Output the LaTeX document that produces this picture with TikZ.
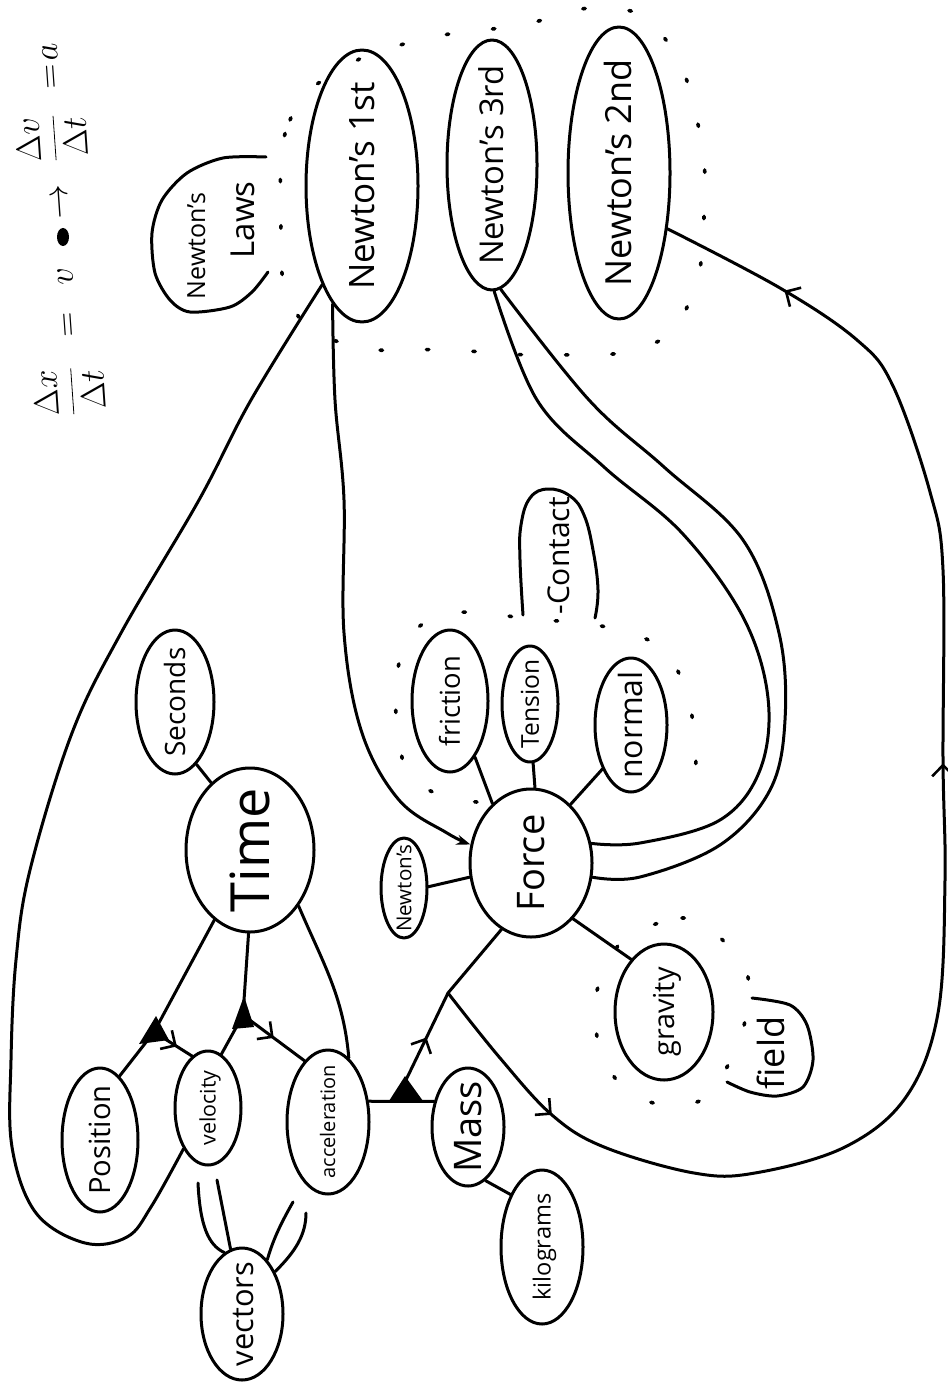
\documentclass[tikz,border=0pt]{standalone}
\usepackage{fontspec}
\setmainfont{Open Sans}
\usetikzlibrary{shapes.geometric,arrows.meta,decorations.markings}

% upright text turned a quarter turn, centred on the node, taking no room
\newcommand\vt[2]{\rotatebox{90}{\fontsize{#1}{#1}\selectfont\makebox[0pt]{\raisebox{-.36em}[0pt][0pt]{#2}}}}
\newcommand\barbtip{\arrow{Straight Barb[length=5.5pt,width=11pt,line width=1.3pt]}}

\tikzset{
  ink/.style={line width=1.5pt, line cap=round, line join=round},
  blob/.style={ink, draw, ellipse, inner sep=0pt},
  dots/.style={line width=1.8pt, line cap=round, dash pattern=on 1.2pt off 22pt},
  barb/.style={postaction={decorate}, decoration={markings, mark=at position #1 with {\barbtip}}},
}

\begin{document}
\begin{tikzpicture}[x=0.5pt,y=-0.5pt]
\fill[white] (0,0) rectangle (947,1390);
\useasboundingbox (0,0) rectangle (947,1390);

% kinematics formula
\node[rotate=94, inner sep=0pt] (eq) at (58,230) {\fontsize{16pt}{16pt}\selectfont$\displaystyle\frac{\Delta x}{\Delta t}$\hspace{14.5pt}$=$\hspace{13.5pt}$v$\hspace{24.5pt}$\rightarrow$\hspace{11pt}$\displaystyle\frac{\Delta v}{\Delta t}$\hspace{12pt}$=$\hspace{2pt}$a$};
\fill (63,237) ellipse [x radius=3pt, y radius=4.5pt];

% Newton's laws group
\node (lawsa) at (196,246) {\vt{12.5pt}{Newton's}};
\node (lawsb) at (243,220) {\vt{16.5pt}{Laws}};
\draw[ink] plot[smooth] coordinates {(266,157) (223,158) (187,173) (162,200) (152,233) (155,273) (170,300) (190,312) (230,307) (252,292) (268,272)};

\node[blob, minimum width=56pt, minimum height=136pt] (n1) at (362,186) {\vt{17.5pt}{Newton's 1st}};
\node[blob, minimum width=45pt, minimum height=125pt] (n3) at (492,165) {\vt{16.4pt}{Newton's 3rd}};
\node[blob, minimum width=51pt, minimum height=146pt] (n2) at (619,173) {\vt{18pt}{Newton's 2nd}};
\draw[dots] plot[smooth cycle, tension=0.8] coordinates {(281,210) (290,120) (340,70) (420,40) (520,25) (604,8) (662,35) (697,120) (704,217) (690,300) (650,345) (560,355) (450,350) (350,345) (292,305)};

% kinematics
\node[blob, minimum width=64pt, minimum height=82pt] (time) at (250,850) {\vt{27pt}{Time}};
\node[blob, minimum width=39pt, minimum height=72pt] (seconds) at (175,702) {\vt{14pt}{Seconds}};
\node[blob, minimum width=38pt, minimum height=72pt] (position) at (100,1140) {\vt{14.6pt}{Position}};
\node[blob, minimum width=33pt, minimum height=57pt] (velocity) at (208,1108) {\vt{10.7pt}{velocity}};
\node[blob, minimum width=41pt, minimum height=72pt] (accel) at (328,1122) {\vt{10pt}{acceleration}};
\node[blob, minimum width=41pt, minimum height=66pt] (vectors) at (242,1314) {\vt{15.4pt}{vectors}};

% forces
\node[blob, minimum width=61pt, minimum height=74pt] (force) at (531,863) {\vt{19pt}{Force}};
\node[blob, minimum width=23pt, minimum height=50pt] (newtsmall) at (404,888) {\vt{10.3pt}{Newton's}};
\node[blob, minimum width=38pt, minimum height=71pt] (friction) at (450,701) {\vt{13.7pt}{friction}};
\node[blob, minimum width=28pt, minimum height=58pt] (tension) at (530,704) {\vt{12.3pt}{Tension}};
\node[blob, minimum width=36pt, minimum height=67pt] (normal) at (631,725) {\vt{16pt}{normal}};
\node[blob, minimum width=49pt, minimum height=68pt] (gravity) at (664,1012) {\vt{14.4pt}{gravity}};
\node[blob, minimum width=36pt, minimum height=59pt] (mass) at (468,1127) {\vt{19pt}{Mass}};
\node[blob, minimum width=41pt, minimum height=77pt] (kilograms) at (542,1247) {\vt{11.8pt}{kilograms}};

\node (contact) at (559,556) {\vt{15pt}{-Contact}};
\draw[ink] plot[smooth, tension=0.7] coordinates {(523,615) (520,560) (521,525) (530,498) (548,489) (570,496) (584,515) (593,550) (598,590) (595,618)};
\node (field) at (772,1053) {\vt{18pt}{field}};
\draw[ink] plot[smooth] coordinates {(752,998) (790,1005) (807,1025) (813,1060) (803,1087) (777,1096) (750,1092) (727,1082)};

\draw[dots] plot[smooth, tension=0.7] coordinates {(477,802) (440,795) (410,775) (399,740) (396,690) (405,645) (430,620) (470,612) (530,619) (580,623) (625,632) (665,652) (688,700) (696,760) (685,800)};
\draw[dots] plot[smooth cycle] coordinates {(628,935) (682,918) (712,930) (745,968) (748,1000) (738,1045) (705,1098) (660,1104) (625,1090) (600,1050) (595,1000) (608,965)};

% link markers
\coordinate (t1) at (154,1032);
\coordinate (t2) at (243,1015);
\coordinate (t3) at (405,1082);
\coordinate (j1) at (448,993);
\fill (156,1016) -- (139,1044) -- (169,1040) -- cycle;
\fill (244,996) -- (232,1029) -- (254,1027) -- cycle;
\fill (405,1076) -- (389,1101) -- (423,1101) -- cycle;

% time links
\draw[ink] (seconds.289) -- (time.120);
\draw[ink] (time.243) -- (t1) -- (position.73);
\draw[ink, barb=0.6] (t1) -- (velocity.107);
\draw[ink] (time.269) -- (t2) -- (velocity.76);
\draw[ink, barb=0.5] (t2) -- (accel.111);
\draw[ink] (time.311) to[out=-67,in=95] (accel.72);

% vectors (double strokes)
\coordinate (vv1) at (198,1183);
\coordinate (vv2) at (217,1180);
\coordinate (av1) at (293,1202);
\coordinate (av2) at (306,1213);
\draw[ink] (vv1) .. controls (200,1225) and (208,1245) .. (vectors.106);
\draw[ink] (vv2) -- (vectors.100);
\draw[ink] (av1) .. controls (280,1225) and (273,1240) .. (vectors.65);
\draw[ink] (av2) .. controls (306,1235) and (295,1252) .. (vectors.52);

% Newton's 1st links
\draw[ink] plot[smooth, tension=0.6] coordinates {(n1.248) (251,400) (199,500) (121,633) (72,733) (30,870) (16,960) (11,1060) (12,1147) (36,1213) (85,1243) (127,1237) (151,1207) (velocity.239)};
\draw[ink, -{Stealth[length=7pt,width=5pt]}] plot[smooth, tension=0.6] coordinates {(n1.256) (335,400) (344,500) (344,633) (362,733) (399,800) (447,833) (force.163)};

% Newton's 3rd links
\draw[ink] plot[smooth, tension=0.6] coordinates {(n3.271) (537,400) (604,467) (682,533) (743,617) (768,698) (760,770) (720,820) (640,843) (force.18)};
\draw[ink] plot[smooth, tension=0.6] coordinates {(n3.274) (589,400) (664,467) (743,540) (779,633) (785,720) (770,790) (720,845) (640,877) (force.347)};

% force links
\draw[ink] (force.123) -- (friction.294);
\draw[ink] (force.87) -- (tension.273);
\draw[ink] (force.56) -- (normal.237);
\draw[ink] (force.193) -- (newtsmall.3);
\draw[ink] (force.307) -- (gravity.122);
\draw[ink, barb=0.5] (t3) -- (j1);
\draw[ink] (j1) -- (force.246);
\draw[ink] (accel.27) -- (mass.143);
\draw[ink] (mass.288) -- (kilograms.121);

% to Newton's 2nd
\draw[ink, postaction={decorate}, decoration={markings, mark=at position 0.103 with {\barbtip}, mark=at position 0.573 with {\barbtip}, mark=at position 0.915 with {\barbtip}}] plot[smooth, tension=0.6] coordinates {(j1) (500,1058) (552,1115) (604,1147) (694,1173) (755,1173) (845,1147) (906,1097) (938,1013) (945,880) (943,760) (943,570) (930,492) (893,386) (857,340) (780,288) (n2.311)};
\end{tikzpicture}
\end{document}
